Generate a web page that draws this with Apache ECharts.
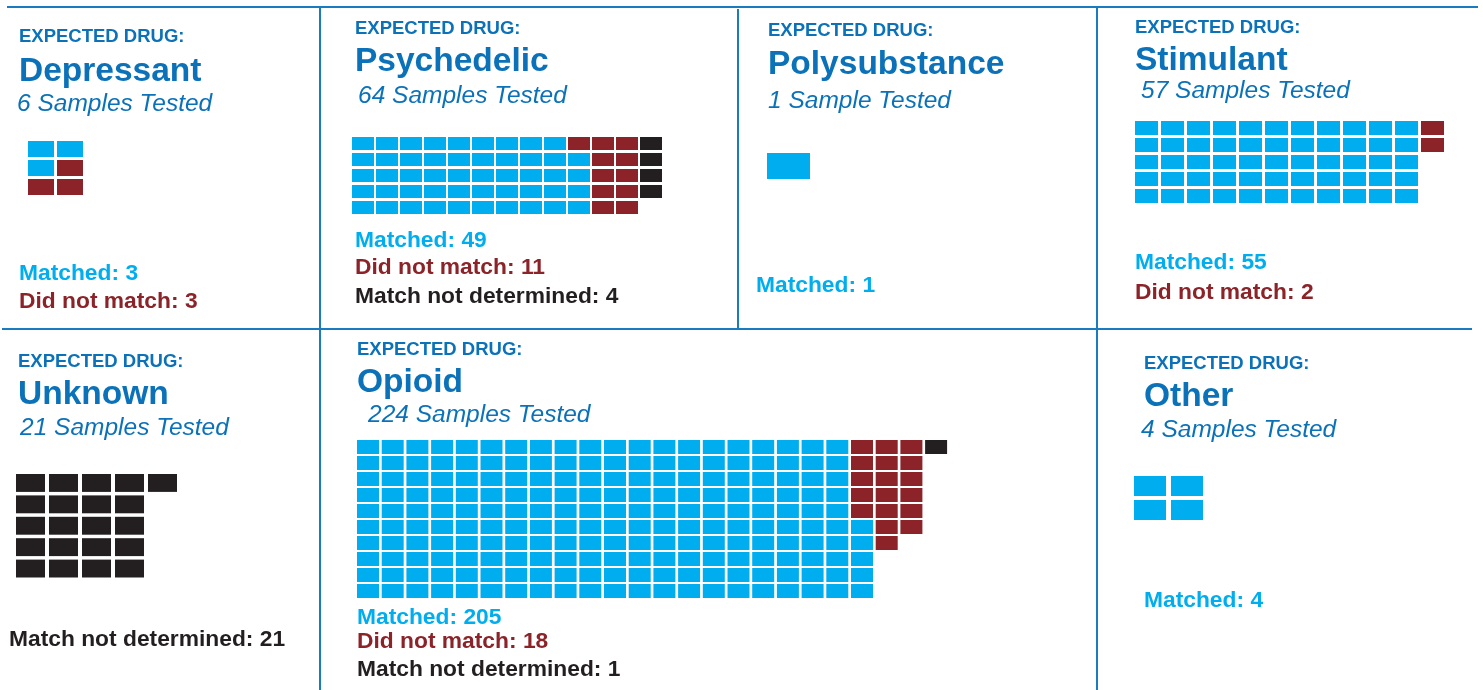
<!DOCTYPE html>
<html>
<head>
<meta charset="utf-8">
<script src="https://cdn.jsdelivr.net/npm/echarts@6/dist/echarts.min.js"></script>
<style>
  html, body { margin: 0; padding: 0; background: #fff; }
  #chart { width: 1483px; height: 690px; }
</style>
</head>
<body>
<div id="chart"></div>
<script>
// expected drug categories and test results
const drugNames = ['Depressant', 'Psychedelic', 'Polysubstance', 'Stimulant', 'Unknown', 'Opioid', 'Other'];
const samplesTested = [6, 64, 1, 57, 21, 224, 4];
const matched = [3, 49, 1, 55, 0, 205, 4];
const didNotMatch = [3, 11, 0, 2, 0, 18, 0];
const notDetermined = [0, 4, 0, 0, 21, 1, 0];

// waffle cells as drawn: M = matched, X = did not match, U = not determined, . = empty
const depressantCells = ['MM', 'MX', 'XX'];
const psychedelicCells = [
  'MMMMMMMMMXXXU',
  'MMMMMMMMMMXXU',
  'MMMMMMMMMMXXU',
  'MMMMMMMMMMXXU',
  'MMMMMMMMMMXX.'
];
const polysubstanceCells = ['M'];
const stimulantCells = [
  'MMMMMMMMMMMX',
  'MMMMMMMMMMMX',
  'MMMMMMMMMMM.',
  'MMMMMMMMMMM.',
  'MMMMMMMMMMM.'
];
const unknownCells = ['UUUUU', 'UUUU.', 'UUUU.', 'UUUU.', 'UUUU.'];
const opioidCells = [
  'MMMMMMMMMMMMMMMMMMMMXXXU',
  'MMMMMMMMMMMMMMMMMMMMXXX.',
  'MMMMMMMMMMMMMMMMMMMMXXX.',
  'MMMMMMMMMMMMMMMMMMMMXXX.',
  'MMMMMMMMMMMMMMMMMMMMXXX.',
  'MMMMMMMMMMMMMMMMMMMMMXX.',
  'MMMMMMMMMMMMMMMMMMMMMX..',
  'MMMMMMMMMMMMMMMMMMMMM...',
  'MMMMMMMMMMMMMMMMMMMMM...',
  'MMMMMMMMMMMMMMMMMMMMM...'
];
const otherCells = ['MM', 'MM'];
const waffleCells = [depressantCells, psychedelicCells, polysubstanceCells, stimulantCells, unknownCells, opioidCells, otherCells];

const CYAN = '#00aeef', RED = '#8b2328', BLACK = '#231f20';
const BLUE = '#0b72b9', RULE = '#1a7bc0';
const FONT = '"Liberation Sans", Arial, sans-serif';
const cellColors = { M: CYAN, X: RED, U: BLACK };

// layout of each panel (text anchors and waffle box)
const panels = [
  { tx: 19, hy: 37, ty: 72, sx: 17, sy: 104, cx: 19, cy: [274, 302], left: 28, top: 141, stepX: 29, stepY: 19, gapX: 3, gapY: 3 },
  { tx: 355, hy: 29, ty: 62, sx: 358, sy: 96, cx: 355, cy: [241, 268, 297], left: 352, top: 137, stepX: 24, stepY: 16, gapX: 2, gapY: 3 },
  { tx: 768, hy: 31, ty: 65, sx: 768, sy: 101, cx: 756, cy: [286], left: 767, top: 153, stepX: 43, stepY: 26, gapX: 0, gapY: 0 },
  { tx: 1135, hy: 28, ty: 61, sx: 1141, sy: 91, cx: 1135, cy: [263, 293], left: 1135, top: 121, stepX: 26, stepY: 17, gapX: 3, gapY: 3 },
  { tx: 18, hy: 362, ty: 395, sx: 20, sy: 428, cx: 9, cy: [640], left: 16, top: 474, stepX: 33, stepY: 21.4, gapX: 4, gapY: 3.5 },
  { tx: 357, hy: 350, ty: 383, sx: 368, sy: 415, cx: 357, cy: [618, 642, 670], left: 357, top: 440, stepX: 24.7, stepY: 16, gapX: 2.7, gapY: 2 },
  { tx: 1144, hy: 364, ty: 397, sx: 1141, sy: 430, cx: 1144, cy: [601], left: 1134, top: 476, stepX: 37, stepY: 24, gapX: 5, gapY: 4 }
];

const chart = echarts.init(document.getElementById('chart'));

const option = {
  animation: false,
  backgroundColor: '#fff',
  grid: [], xAxis: [], yAxis: [], series: [],
  graphic: [
    { type: 'line', shape: { x1: 7, y1: 7, x2: 1478, y2: 7 }, style: { stroke: RULE, lineWidth: 2 } },
    { type: 'line', shape: { x1: 2, y1: 329, x2: 1472, y2: 329 }, style: { stroke: RULE, lineWidth: 2 } },
    { type: 'line', shape: { x1: 320, y1: 7, x2: 320, y2: 690 }, style: { stroke: RULE, lineWidth: 2 } },
    { type: 'line', shape: { x1: 738, y1: 9, x2: 738, y2: 329 }, style: { stroke: RULE, lineWidth: 2 } },
    { type: 'line', shape: { x1: 1097, y1: 7, x2: 1097, y2: 690 }, style: { stroke: RULE, lineWidth: 2 } }
  ]
};

function addText(x, y, text, size, color, weight, style) {
  option.graphic.push({
    type: 'text', x, y,
    style: {
      text, fill: color, fontFamily: FONT, fontSize: size,
      fontWeight: weight || 'bold', fontStyle: style || 'normal',
      align: 'left', verticalAlign: 'middle'
    }
  });
}

panels.forEach((p, i) => {
  const cells = waffleCells[i];
  const nRows = cells.length, nCols = cells[0].length;
  const data = [];
  cells.forEach((row, r) => {
    row.split('').forEach((ch, c) => {
      if (ch !== '.') data.push([c, r, ch]);
    });
  });

  option.grid.push({
    left: p.left - p.gapX / 2, top: p.top - p.gapY / 2,
    width: nCols * p.stepX, height: nRows * p.stepY
  });
  option.xAxis.push({ type: 'value', gridIndex: i, min: -0.5, max: nCols - 0.5, show: false });
  option.yAxis.push({ type: 'value', gridIndex: i, min: -0.5, max: nRows - 0.5, inverse: true, show: false });
  option.series.push({
    type: 'custom', name: drugNames[i], xAxisIndex: i, yAxisIndex: i,
    data,
    renderItem(params, api) {
      const pt = api.coord([api.value(0), api.value(1)]);
      const size = api.size([1, 1]);
      const w = size[0] - p.gapX, h = size[1] - p.gapY;
      return {
        type: 'rect',
        shape: { x: pt[0] - w / 2, y: pt[1] - h / 2, width: w, height: h },
        style: { fill: cellColors[data[params.dataIndex][2]] }
      };
    }
  });

  addText(p.tx, p.hy, 'EXPECTED DRUG:', 18.5, BLUE);
  addText(p.tx, p.ty, drugNames[i], 33.5, BLUE);
  const n = samplesTested[i];
  addText(p.sx, p.sy, n + (n === 1 ? ' Sample Tested' : ' Samples Tested'), 24.5, BLUE, 'normal', 'italic');

  const lines = [
    ['Matched: ', matched[i], CYAN],
    ['Did not match: ', didNotMatch[i], RED],
    ['Match not determined: ', notDetermined[i], BLACK]
  ].filter(l => l[1] > 0);
  lines.forEach((l, k) => addText(p.cx, p.cy[k], l[0] + l[1], 22.8, l[2]));
});

chart.setOption(option);
</script>
</body>
</html>
